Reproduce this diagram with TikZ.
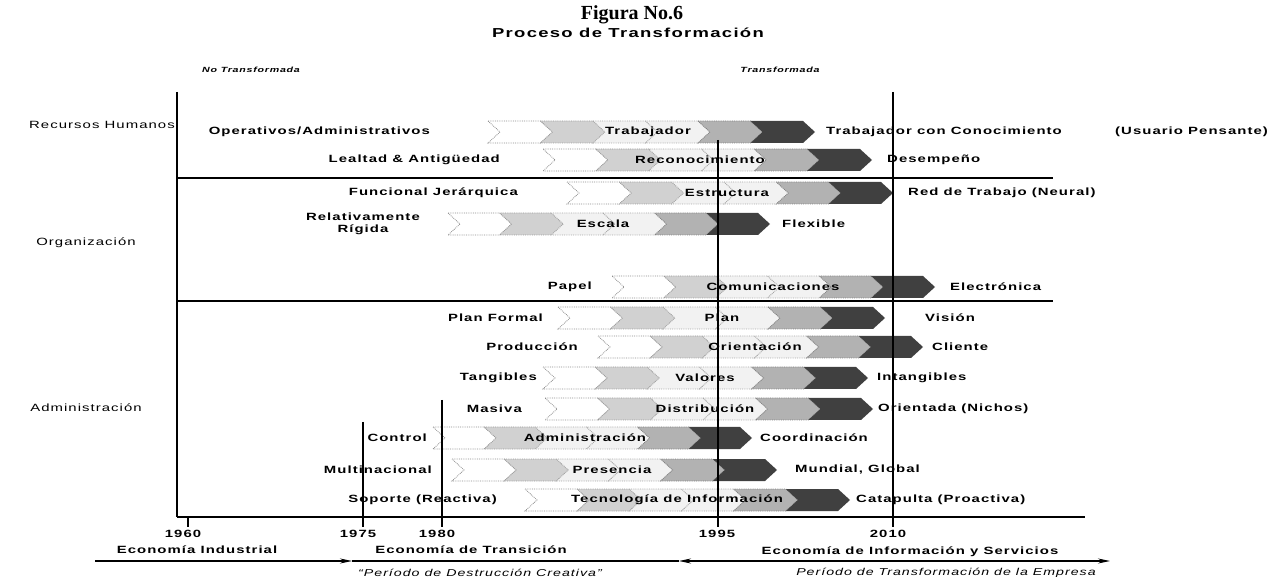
\documentclass[tikz,border=0pt]{standalone}
\usepackage{fontspec}
\setmainfont{Liberation Serif}
\newfontfamily\widesans[FakeStretch=1.42,LetterSpace=10]{Liberation Sans}
\usetikzlibrary{arrows.meta}

\tikzset{
  rowlbl/.style={font=\widesans\bfseries\fontsize{10.5}{12}\selectfont, inner sep=0pt, align=center},
  catlbl/.style={font=\widesans\fontsize{10.5}{12}\selectfont, inner sep=0pt},
  perlbl/.style={font=\widesans\itshape\fontsize{10}{12}\selectfont, inner sep=0pt},
  statlbl/.style={font=\widesans\bfseries\itshape\fontsize{7.5}{9}\selectfont, inner sep=0pt},
  frame/.style={line width=1.1pt},
  period/.style={line width=1.2pt},
  lightchev/.style={densely dotted, line width=0.8pt},
}

% rows: y / left text / left end / band start / band end / middle text / middle x / right text / right start
\def\rowdata{%
132/{Operativos/Administrativos}/430/488/815/{Trabajador}/648/{Trabajador con Conocimiento}/826,
160/{Lealtad \& Antigüedad}/500/543/872/{Reconocimiento}/700/{Desempeño}/887,
193/{Funcional Jerárquica}/518/567/893/{Estructura}/727/{Red de Trabajo (Neural)}/908,
224/{Relativamente\\Rígida}/420/448/770/{Escala}/603/{Flexible}/782,
287/{Papel}/592/612/935/{Comunicaciones}/773/{Electrónica}/950,
318/{Plan Formal}/543/558/885/{Plan}/722/{Visión}/925,
347/{Producción}/578/598/923/{Orientación}/755/{Cliente}/932,
378/{Tangibles}/537/543/868/{Valores}/705/{Intangibles}/877,
409/{Masiva}/522/545/873/{Distribución}/705/{Orientada (Nichos)}/878,
438/{Control}/427/433/752/{Administración}/585/{Coordinación}/760,
470/{Multinacional}/432/452/777/{Presencia}/612/{Mundial, Global}/795,
500/{Soporte (Reactiva)}/497/525/850/{Tecnología de Información}/677/{Catapulta (Proactiva)}/856}

\begin{document}
\begin{tikzpicture}[x=1pt,y=-1pt]
    \useasboundingbox (0,0) rectangle (1270,577);
    % Titles
    \node[font=\bfseries\fontsize{20}{22}\selectfont, inner sep=0pt] (fig) at (632,15) {Figura No.6};
    \node[font=\widesans\bfseries\fontsize{13}{15}\selectfont, inner sep=0pt] (title) at (628,33) {Proceso de Transformación};
    \node[statlbl] (notr) at (251,70) {No Transformada};
    \node[statlbl] (tr) at (780,70) {Transformada};

    % Frame
    \draw[line width=2.2pt] (177,92) -- (177,517);
    \draw[line width=1.3pt] (177,517) -- (1085,517);
    \draw[frame] (177,178) -- (1053,178);
    \draw[frame] (177,301) -- (1053,301);

    % Chevron bands
    \foreach \y/\lft/\lx/\xa/\xb/\mtxt/\mx/\rgt/\rx in \rowdata {
        \pgfmathsetmacro\stp{(\xb-\xa-12)/6}
        \foreach \k/\shade/\edge in {0/white/black!45, 1/black!18/black!40, 2/black!5/black!35, 3/black!5/black!35, 4/black!30/black!50} {
            \pgfmathsetmacro\xs{\xa+\k*\stp}
            \filldraw[lightchev, fill=\shade, draw=\edge] (\xs,\y-11) -- ++(\stp,0) -- ++(12,11) -- ++(-12,11) -- ++(-\stp,0) -- ++(12,-11) -- cycle;
        }
        \pgfmathsetmacro\xs{\xa+5*\stp}
        \fill[black!75] (\xs,\y-11) -- ++(\stp,0) -- ++(12,11) -- ++(-12,11) -- ++(-\stp,0) -- ++(12,-11) -- cycle;
    }

    % Year lines
    \draw[frame] (718,140) -- (718,527);
    \draw[frame] (893,92) -- (893,527);
    \draw[frame] (442,400) -- (442,527);
    \draw[frame] (363,422) -- (363,527);
    \draw[frame] (188,517) -- (188,527);

    % Row texts
    \foreach \y/\lft/\lx/\xa/\xb/\mtxt/\mx/\rgt/\rx [count=\i] in \rowdata {
        \node[rowlbl, anchor=east] (l\i) at (\lx,\y) {\lft};
        \node[rowlbl] (m\i) at (\mx,\y) {\mtxt};
        \node[rowlbl, anchor=west] (r\i) at (\rx,\y) {\rgt};
    }
    \node[rowlbl, anchor=west] (r1b) at (1115,132) {(Usuario Pensante)};

    % Categories
    \node[catlbl, anchor=east] (rh) at (175,125) {Recursos Humanos};
    \node[catlbl] (org) at (86,243) {Organización};
    \node[catlbl] (adm) at (86,408) {Administración};

    % Years
    \foreach \yr/\xx in {1960/183, 1975/358, 1980/437, 1995/717, 2010/888} {
        \node[rowlbl] (y\yr) at (\xx,534) {\yr};
    }

    % Economies and periods
    \node[rowlbl] (eind) at (197,550) {Economía Industrial};
    \node[rowlbl] (etra) at (471,550) {Economía de Transición};
    \node[rowlbl] (einf) at (910,552) {Economía de Información y Servicios};
    \node[perlbl] (pdes) at (480,573) {“Período de Destrucción Creativa”};
    \node[perlbl] (ptra) at (946,573) {Período de Transformación de la Empresa};

    \coordinate (e0) at (95,561);
    \coordinate (e1) at (352,561);
    \coordinate (e2) at (679,561);
    \coordinate (e3) at (1110,561);
    \draw[period, -{Stealth[length=12pt,width=5pt]}] (e0) -- (e1);
    \draw[period] (e1) -- (e2);
    \draw[period, {Stealth[length=12pt,width=5pt]}-{Stealth[length=12pt,width=5pt]}] (e2) -- (e3);
\end{tikzpicture}
\end{document}
